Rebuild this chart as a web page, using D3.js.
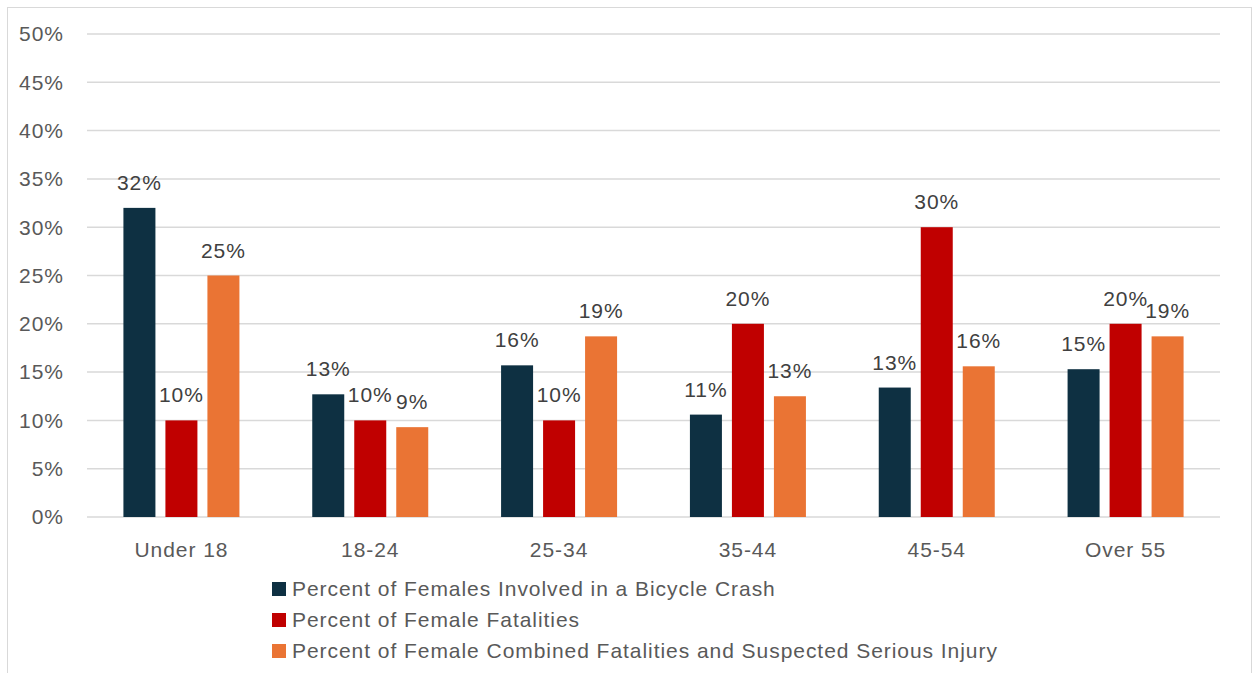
<!DOCTYPE html>
<html>
<head>
<meta charset="utf-8">
<script src="https://cdn.jsdelivr.net/npm/d3@7"></script>
<style>
  body { margin: 0; background: #fff; }
  svg { display: block; font-family: "Liberation Sans", Arial, sans-serif; }
  svg text { letter-spacing: 0.95px; }
</style>
</head>
<body>
<svg id="chart" width="1255" height="673"></svg>
<script>
// chart data
const categories = ["Under 18", "18-24", "25-34", "35-44", "45-54", "Over 55"];
const seriesNames = [
  "Percent of Females Involved in a Bicycle Crash",
  "Percent of Female Fatalities",
  "Percent of Female Combined Fatalities and Suspected Serious Injury"
];
const crashPct = [32.0, 12.7, 15.7, 10.6, 13.4, 15.3];
const fatalPct = [10, 10, 10, 20, 30, 20];
const seriousPct = [25.0, 9.3, 18.7, 12.5, 15.6, 18.7];
const yTicks = [0, 5, 10, 15, 20, 25, 30, 35, 40, 45, 50];
const colors = ["#0e3042", "#c00000", "#ea7434"];

const series = [crashPct, fatalPct, seriousPct];

const svg = d3.select("#chart");
const fontSize = 21;

// outer border
svg.append("rect")
  .attr("x", 7.5).attr("y", 7.5)
  .attr("width", 1244).attr("height", 680)
  .attr("fill", "none").attr("stroke", "#d9d9d9").attr("stroke-width", 1);

const plotLeft = 87, plotRight = 1220, plotTop = 34, plotBottom = 517;

const x = d3.scaleBand().domain(categories).range([plotLeft, plotRight]);
const y = d3.scaleLinear().domain([0, 50]).range([plotBottom, plotTop]);

const barW = 32, gap = 10;
const groupW = barW * 3 + gap * 2;

// gridlines
svg.append("g").selectAll("line")
  .data(yTicks)
  .join("line")
  .attr("x1", plotLeft).attr("x2", plotRight)
  .attr("y1", d => y(d)).attr("y2", d => y(d))
  .attr("stroke", "#d9d9d9").attr("stroke-width", 1.5);

// y tick labels
svg.append("g").selectAll("text")
  .data(yTicks)
  .join("text")
  .attr("x", 64).attr("y", d => y(d))
  .attr("dy", "0.35em")
  .attr("text-anchor", "end")
  .attr("font-size", fontSize)
  .attr("fill", "#595959")
  .text(d => d + "%");

// bars
series.forEach((vals, si) => {
  const g = svg.append("g");
  const xs = (c) => x(c) + x.bandwidth() / 2 - groupW / 2 + si * (barW + gap);
  g.selectAll("rect")
    .data(categories)
    .join("rect")
    .attr("x", c => xs(c))
    .attr("y", (c, i) => y(vals[i]))
    .attr("width", barW)
    .attr("height", (c, i) => y(0) - y(vals[i]))
    .attr("fill", colors[si]);

  g.selectAll("text")
    .data(categories)
    .join("text")
    .attr("x", c => xs(c) + barW / 2)
    .attr("y", (c, i) => y(vals[i]) - 18)
    .attr("text-anchor", "middle")
    .attr("font-size", fontSize)
    .attr("fill", "#404040")
    .text((c, i) => Math.round(vals[i]) + "%");
});

// category labels
svg.append("g").selectAll("text")
  .data(categories)
  .join("text")
  .attr("x", c => x(c) + x.bandwidth() / 2)
  .attr("y", 557)
  .attr("text-anchor", "middle")
  .attr("font-size", fontSize)
  .attr("fill", "#595959")
  .text(c => c);

// legend
const legend = svg.append("g").selectAll("g")
  .data(seriesNames)
  .join("g")
  .attr("transform", (d, i) => `translate(272, ${589 + i * 31})`);

legend.append("rect")
  .attr("x", 0).attr("y", -7)
  .attr("width", 14).attr("height", 14)
  .attr("fill", (d, i) => colors[i]);

legend.append("text")
  .attr("x", 20).attr("y", 7)
  .attr("font-size", fontSize)
  .attr("fill", "#595959")
  .text(d => d);
</script>
</body>
</html>
